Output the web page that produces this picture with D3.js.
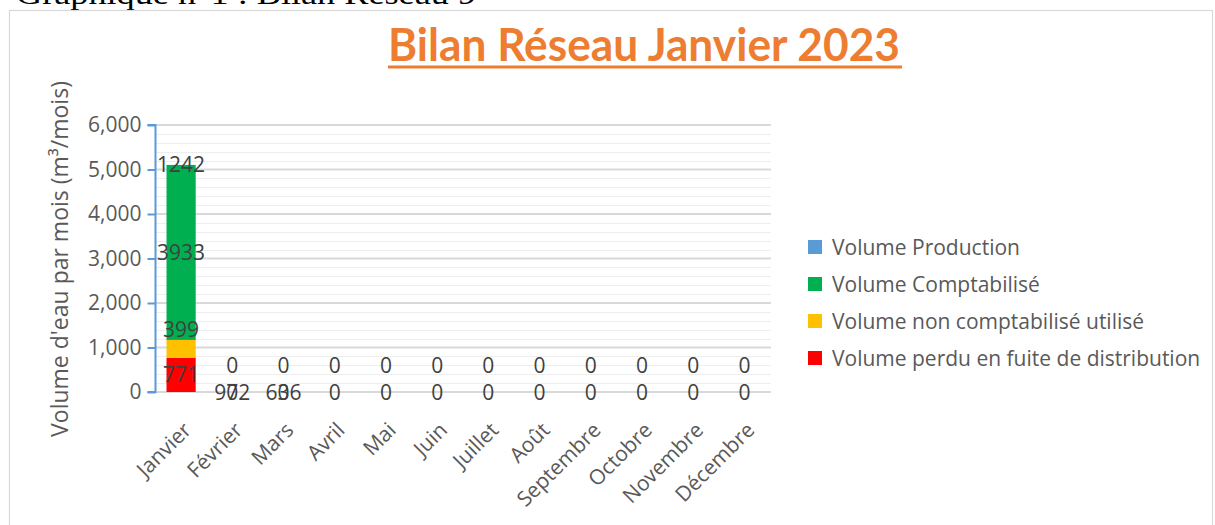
<!DOCTYPE html>
<html>
<head>
<meta charset="utf-8">
<script src="https://cdn.jsdelivr.net/npm/d3@7"></script>
<style>
  body { margin: 0; background: #fff; }
  text { font-family: "Open Sans", sans-serif; }
</style>
</head>
<body>
<svg id="chart"></svg>
<script>
// donnees
var mois = ["Janvier", "Février", "Mars", "Avril", "Mai", "Juin", "Juillet", "Août",
            "Septembre", "Octobre", "Novembre", "Décembre"];
var perdu = [771, 0, 0, 0, 0, 0, 0, 0, 0, 0, 0, 0];
var nonCompta = [399, 0, 0, 0, 0, 0, 0, 0, 0, 0, 0, 0];
var compta = [3933, 0, 0, 0, 0, 0, 0, 0, 0, 0, 0, 0];
var production = [1242, 0, 0, 0, 0, 0, 0, 0, 0, 0, 0, 0];
var etiquettesBas = ["", "972", "636", "", "", "", "", "", "", "", "", ""];
var yTicks = [0, 1000, 2000, 3000, 4000, 5000, 6000];
var series = ["Volume Production", "Volume Comptabilisé", "Volume non comptabilisé utilisé", "Volume perdu en fuite de distribution"];
var couleurs = ["#5B9BD5", "#00B050", "#FFC000", "#FF0000"];

var width = 1215,
    height = 525;

var svg = d3.select("#chart")
    .attr("width", width)
    .attr("height", height);

// titre du document (coupé en haut)
svg.append("text")
    .attr("x", 16)
    .attr("y", 4)
    .attr("textLength", 460)
    .attr("lengthAdjust", "spacingAndGlyphs")
    .style("font-family", "'Liberation Serif', serif")
    .style("font-size", "30px")
    .style("fill", "#000")
    .text("Graphique n°1 : Bilan Réseau 9");

// cadre du graphique
svg.append("rect")
    .attr("x", 9.5)
    .attr("y", 10.5)
    .attr("width", 1203)
    .attr("height", 530)
    .style("fill", "none")
    .style("stroke", "#D9D9D9")
    .style("stroke-width", 1.2);

// titre
svg.append("text")
    .attr("x", 388)
    .attr("y", 61)
    .attr("textLength", 512)
    .attr("lengthAdjust", "spacingAndGlyphs")
    .style("font-family", "Lato, sans-serif")
    .style("font-weight", "bold")
    .style("font-size", "46px")
    .style("fill", "#ED7D31")
    .text("Bilan Réseau Janvier 2023");

svg.append("line")
    .attr("x1", 388).attr("x2", 902)
    .attr("y1", 67).attr("y2", 67)
    .style("stroke", "#ED7D31")
    .style("stroke-width", 3);

var x = d3.scaleBand()
    .domain(mois)
    .range([155.5, 770])
    .paddingInner(0.43)
    .paddingOuter(0.215);

var y = d3.scaleLinear()
    .domain([0, 6000])
    .range([392, 125]);

// grille secondaire puis principale
var g = svg.append("g");
g.selectAll("line.minor")
    .data(d3.range(0, 6001, 200).filter(function (v) { return v % 1000 !== 0; }))
    .enter()
    .append("line")
    .attr("x1", 155.5).attr("x2", 771)
    .attr("y1", function (d) { return Math.round(y(d)) + 0.5; })
    .attr("y2", function (d) { return Math.round(y(d)) + 0.5; })
    .style("stroke", "#EEEEEE")
    .style("stroke-width", 1);

g.selectAll("line.major")
    .data(yTicks)
    .enter()
    .append("line")
    .attr("x1", 155.5).attr("x2", 771)
    .attr("y1", function (d) { return y(d); })
    .attr("y2", function (d) { return y(d); })
    .style("stroke", "#D9D9D9")
    .style("stroke-width", 2);

// barres empilées
var stackData = mois.map(function (m, i) {
    return { mois: m, perdu: perdu[i], nonCompta: nonCompta[i], compta: compta[i] };
});
var stack = d3.stack().keys(["perdu", "nonCompta", "compta"]);
var couches = stack(stackData);
var couleurCouche = { perdu: "#FF0000", nonCompta: "#FFC000", compta: "#00B050" };

g.selectAll("g.couche")
    .data(couches)
    .enter()
    .append("g")
    .style("fill", function (d) { return couleurCouche[d.key]; })
    .selectAll("rect")
    .data(function (d) { return d; })
    .enter()
    .append("rect")
    .attr("x", function (d) { return x(d.data.mois); })
    .attr("width", x.bandwidth())
    .attr("y", function (d) { return y(d[1]); })
    .attr("height", function (d) { return y(d[0]) - y(d[1]); });

// axe Y
var yAxis = svg.append("g")
    .attr("transform", "translate(155.5,0)")
    .call(d3.axisLeft(y).tickValues(yTicks).tickSize(8).tickPadding(6).tickFormat(d3.format(",")));
yAxis.select(".domain").attr("d", "M-8," + y(6000) + "H0V" + y(0) + "H-8").style("stroke", "#5B9BD5").style("stroke-width", 2);
yAxis.selectAll(".tick line").style("stroke", "#5B9BD5").style("stroke-width", 2);
yAxis.selectAll(".tick text")
    .style("font-size", "21px")
    .style("fill", "#595959");

// axe X
var xAxis = svg.append("g")
    .attr("transform", "translate(0," + y(0) + ")")
    .call(d3.axisBottom(x).tickSize(0).tickPadding(0));
xAxis.select(".domain").remove();
xAxis.selectAll(".tick text")
    .attr("transform", "translate(1,29) rotate(-45)")
    .attr("text-anchor", "end")
    .attr("dy", "0.7em")
    .style("font-size", "21px")
    .style("fill", "#595959");

// étiquettes de valeurs
var labels = svg.append("g")
    .attr("text-anchor", "middle")
    .style("font-size", "21px")
    .style("fill", "#404040");

function etiquette(xv, yv, txt) {
    labels.append("text")
        .attr("x", xv)
        .attr("y", yv)
        .attr("dy", "0.36em")
        .text(txt);
}

stackData.forEach(function (d, i) {
    var cx = x(d.mois) + x.bandwidth() / 2;
    if (i === 0) {
        etiquette(cx, y(d.perdu / 2), d.perdu);
        etiquette(cx, y(d.perdu + d.nonCompta) - 10, d.nonCompta);
        etiquette(cx, y(d.perdu + d.nonCompta + d.compta / 2), d.compta);
        etiquette(cx, y(d.perdu + d.nonCompta + d.compta), production[i]);
    } else {
        etiquette(cx, y(0) - 27, production[i]);
        etiquette(cx, y(0), d.perdu);
        if (etiquettesBas[i]) etiquette(cx, y(0), etiquettesBas[i]);
    }
});

// titre de l'axe Y
svg.append("text")
    .attr("transform", "translate(68,259) rotate(-90)")
    .attr("text-anchor", "middle")
    .style("font-size", "23px")
    .style("fill", "#595959")
    .text("Volume d'eau par mois (m³/mois)");

// légende
var legende = svg.append("g")
    .selectAll("g")
    .data(series)
    .enter()
    .append("g")
    .attr("transform", function (d, i) { return "translate(808," + (247 + i * 37) + ")"; });

legende.append("rect")
    .attr("x", 0).attr("y", -7)
    .attr("width", 14).attr("height", 14)
    .style("fill", function (d, i) { return couleurs[i]; });

legende.append("text")
    .attr("x", 24)
    .attr("dy", "0.36em")
    .style("font-size", "21px")
    .style("fill", "#595959")
    .text(function (d) { return d; });
</script>
</body>
</html>
